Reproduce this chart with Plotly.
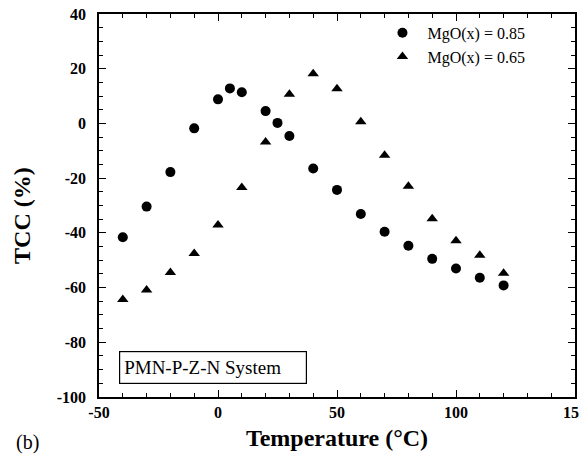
import plotly.graph_objects as go

temp_085 = [-40, -30, -20, -10, 0, 5, 10, 20, 25, 30, 40, 50, 60, 70, 80, 90, 100, 110, 120]
tcc_085 = [-41.6, -30.4, -17.8, -1.8, 8.8, 12.8, 11.4, 4.5, 0.2, -4.6, -16.5, -24.3, -33.1, -39.6, -44.7, -49.5, -53.0, -56.4, -59.2]

temp_065 = [-40, -30, -20, -10, 0, 10, 20, 30, 40, 50, 60, 70, 80, 90, 100, 110, 120]
tcc_065 = [-64.4, -60.9, -54.5, -47.5, -37.1, -23.4, -6.8, 10.7, 18.2, 12.7, 0.6, -11.6, -23.0, -34.8, -42.9, -48.2, -54.8]

x_ticks = [-50, 0, 50, 100, 150]
x_tick_labels = ["-50", "0", "50", "100", "150"]
y_ticks = [-100, -80, -60, -40, -20, 0, 20, 40]
y_tick_labels = ["-100", "-80", "-60", "-40", "-20", "0", "20", "40"]

serif = "Liberation Serif, Times New Roman, serif"

fig = go.Figure()
fig.add_trace(go.Scatter(
    x=temp_085, y=tcc_085, mode="markers", name="MgO(x) = 0.85",
    marker=dict(symbol="circle", size=10, color="black"),
))
fig.add_trace(go.Scatter(
    x=temp_065, y=tcc_065, mode="markers", name="MgO(x) = 0.65",
    marker=dict(symbol="triangle-up", size=10, color="black"),
))

axis_common = dict(
    showline=True, linecolor="black", linewidth=1.5, mirror="allticks",
    ticks="inside", ticklen=7, tickwidth=1.2, tickcolor="black",
    showgrid=False, zeroline=False, automargin=False,
    ticklabeloverflow="allow",
    tickfont=dict(family=serif, size=16, color="black", weight="bold"),
)

fig.update_xaxes(
    range=[-50, 150], tickvals=x_ticks, ticktext=x_tick_labels,
    minor=dict(dtick=10, ticks="inside", ticklen=4, tickcolor="black", tickwidth=1),
    title=dict(text="Temperature (°C)", font=dict(family=serif, size=24, color="black", weight="bold"), standoff=9),
    **axis_common,
)
fig.update_yaxes(
    range=[-100, 40], tickvals=y_ticks, ticktext=y_tick_labels,
    minor=dict(dtick=5, ticks="inside", ticklen=4, tickcolor="black", tickwidth=1),
    ticklabelstandoff=8,
    **axis_common,
)

# y-axis title placed as annotation for precise position
fig.add_annotation(
    x=-0.162, y=0.475, xref="paper", yref="paper", xanchor="center", yanchor="middle",
    text="TCC (%)", textangle=-90, showarrow=False,
    font=dict(family=serif, size=24, color="black", weight="bold"),
)

fig.add_annotation(
    x=0.042, y=0.077, xref="paper", yref="paper", xanchor="left", yanchor="middle",
    text="PMN-P-Z-N System", showarrow=False, align="left",
    width=178, height=23,
    font=dict(family=serif, size=19, color="black"),
    bordercolor="black", borderwidth=1.2, borderpad=4, bgcolor="white",
)
fig.add_annotation(
    x=-0.178, y=-0.12, xref="paper", yref="paper", xanchor="left", yanchor="middle",
    text="(b)", showarrow=False, font=dict(family=serif, size=20, color="black"),
)

# The page body adds an 8px offset; margins are shifted to compensate.
fig.update_layout(
    width=587, height=457,
    margin=dict(l=91, r=20, t=6, b=68, autoexpand=False),
    paper_bgcolor="white", plot_bgcolor="white",
    showlegend=True,
    legend=dict(x=0.585, y=0.995, xanchor="left", yanchor="top",
                font=dict(family=serif, size=16, color="black"),
                bgcolor="rgba(0,0,0,0)", itemwidth=40, tracegroupgap=2),
)

fig.write_html("out.html")
